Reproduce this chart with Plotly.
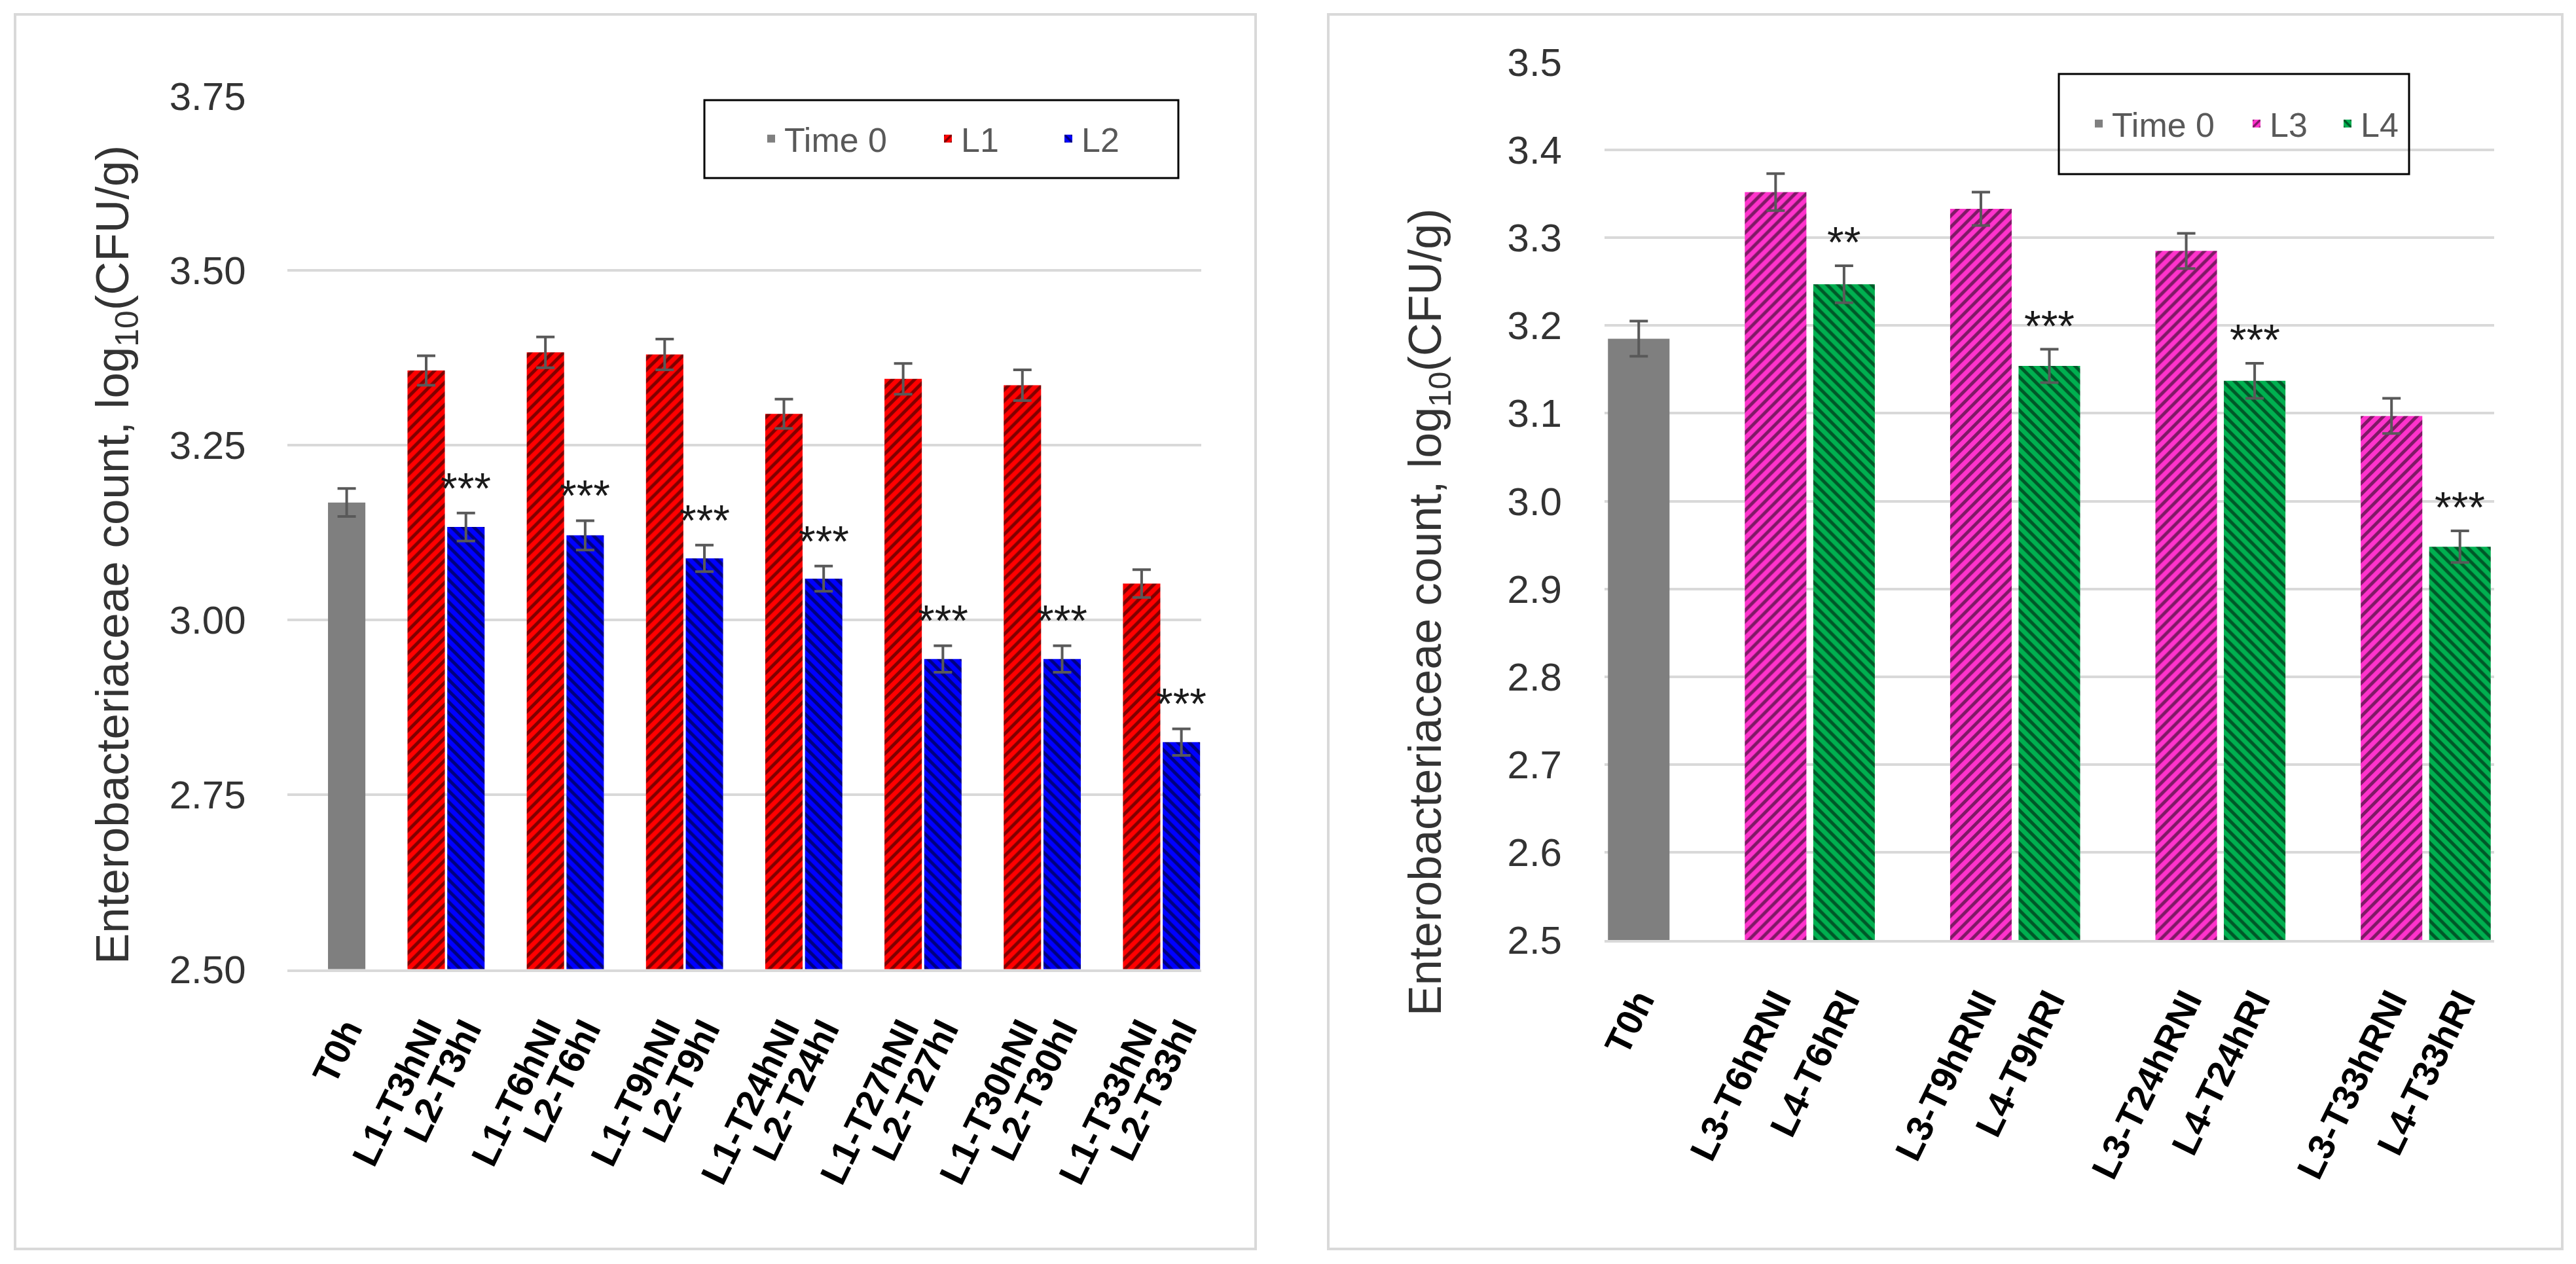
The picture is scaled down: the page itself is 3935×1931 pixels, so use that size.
import plotly.graph_objects as go

W, H = 3935, 1931
FONT = "Liberation Sans, Arial, sans-serif"

# ---------------- data : left panel ----------------
left_t0_label = "T0h"
left_t0_value = 3.168
left_t0_err = 0.020
left_L1_labels = ["L1-T3hNI", "L1-T6hNI", "L1-T9hNI", "L1-T24hNI", "L1-T27hNI", "L1-T30hNI", "L1-T33hNI"]
left_L2_labels = ["L2-T3hI", "L2-T6hI", "L2-T9hI", "L2-T24hI", "L2-T27hI", "L2-T30hI", "L2-T33hI"]
left_L1_values = [3.357, 3.383, 3.380, 3.295, 3.345, 3.336, 3.052]
left_L1_err = [0.021, 0.022, 0.022, 0.021, 0.022, 0.022, 0.020]
left_L2_values = [3.133, 3.121, 3.088, 3.059, 2.944, 2.944, 2.825]
left_L2_err = [0.020, 0.021, 0.019, 0.018, 0.019, 0.019, 0.019]
left_L2_sig = ["***", "***", "***", "***", "***", "***", "***"]

# ---------------- data : right panel ----------------
right_t0_label = "T0h"
right_t0_value = 3.185
right_t0_err = 0.020
right_L3_labels = ["L3-T6hRNI", "L3-T9hRNI", "L3-T24hRNI", "L3-T33hRNI"]
right_L4_labels = ["L4-T6hRI", "L4-T9hRI", "L4-T24hRI", "L4-T33hRI"]
right_L3_values = [3.352, 3.333, 3.285, 3.097]
right_L3_err = [0.021, 0.019, 0.020, 0.020]
right_L4_values = [3.247, 3.154, 3.137, 2.948]
right_L4_err = [0.021, 0.019, 0.020, 0.018]
right_L4_sig = ["**", "***", "***", "***"]

legend_names_left = ["Time 0", "L1", "L2"]
legend_names_right = ["Time 0", "L3", "L4"]
y_title = "Enterobacteriaceae count, log<sub>10</sub>(CFU/g)"

# colours
C_GRAY = "#7f7f7f"
C_RED = "#ff0000"
C_BLUE = "#0000ff"
C_PINK = "#ff33cc"
C_GREEN = "#00b050"
C_ERR = "#595959"
C_GRID = "#d9d9d9"


def px(x):
    return x / W


def py(y):
    return 1 - y / H


# slot positions on the category axis (blank slots separate the groups)
left_t0_pos = [1]
left_L1_pos = [3 + 3 * i for i in range(len(left_L1_values))]
left_L2_pos = [4 + 3 * i for i in range(len(left_L2_values))]
left_nslots = left_L2_pos[-1] + 1

right_t0_pos = [0]
right_L3_pos = [2 + 3 * i for i in range(len(right_L3_values))]
right_L4_pos = [3 + 3 * i for i in range(len(right_L4_values))]
right_nslots = right_L4_pos[-1] + 1


def err(arr):
    return dict(type="data", array=arr, color=C_ERR, thickness=4, width=14, visible=True)


def pat(shape, bg):
    return dict(shape=shape, fgcolor="#000000", bgcolor=bg, size=12, solidity=0.42)


fig = go.Figure()

LW = 0.94
RW = 0.90
# left panel traces
fig.add_trace(go.Bar(x=left_t0_pos, y=[left_t0_value], error_y=err([left_t0_err]),
                     width=LW, marker=dict(color=C_GRAY, line=dict(width=0)), showlegend=True,
                     name=legend_names_left[0], xaxis="x", yaxis="y", legend="legend7"))
fig.add_trace(go.Bar(x=left_L1_pos, y=left_L1_values, error_y=err(left_L1_err),
                     width=LW, marker=dict(color=C_RED, pattern=pat("/", C_RED), line=dict(width=0)),
                     showlegend=True,
                     name=legend_names_left[1], xaxis="x", yaxis="y", legend="legend2"))
fig.add_trace(go.Bar(x=left_L2_pos, y=left_L2_values, error_y=err(left_L2_err),
                     width=LW, marker=dict(color=C_BLUE, pattern=pat("\\", C_BLUE), line=dict(width=0)),
                     showlegend=True,
                     name=legend_names_left[2], xaxis="x", yaxis="y", legend="legend3"))
# right panel traces
fig.add_trace(go.Bar(x=right_t0_pos, y=[right_t0_value], error_y=err([right_t0_err]),
                     width=RW, marker=dict(color=C_GRAY, line=dict(width=0)), showlegend=True,
                     name=legend_names_right[0], xaxis="x2", yaxis="y2", legend="legend4"))
fig.add_trace(go.Bar(x=right_L3_pos, y=right_L3_values, error_y=err(right_L3_err),
                     width=RW, marker=dict(color=C_PINK, pattern=pat("/", C_PINK), line=dict(width=0)),
                     showlegend=True,
                     name=legend_names_right[1], xaxis="x2", yaxis="y2", legend="legend5"))
fig.add_trace(go.Bar(x=right_L4_pos, y=right_L4_values, error_y=err(right_L4_err),
                     width=RW, marker=dict(color=C_GREEN, pattern=pat("\\", C_GREEN), line=dict(width=0)),
                     showlegend=True,
                     name=legend_names_right[2], xaxis="x2", yaxis="y2", legend="legend6"))

# significance marks
annotations = []
for p, v, e, s in zip(left_L2_pos, left_L2_values, left_L2_err, left_L2_sig):
    annotations.append(dict(x=p, y=v + e, xref="x", yref="y", text=s, showarrow=False,
                            yanchor="middle", yshift=38, font=dict(family=FONT, size=66, color="#1a1a1a")))
for p, v, e, s in zip(right_L4_pos, right_L4_values, right_L4_err, right_L4_sig):
    annotations.append(dict(x=p, y=v + e, xref="x2", yref="y2", text=s, showarrow=False,
                            yanchor="middle", yshift=36, font=dict(family=FONT, size=66, color="#1a1a1a")))

# y-axis titles
annotations.append(dict(x=px(177), y=py(848), xref="paper", yref="paper", text=y_title, textangle=-90,
                        showarrow=False, xanchor="center", yanchor="middle",
                        font=dict(family=FONT, size=71, color="#333333")))
annotations.append(dict(x=px(2182), y=py(936), xref="paper", yref="paper", text=y_title, textangle=-90,
                        showarrow=False, xanchor="center", yanchor="middle",
                        font=dict(family=FONT, size=70, color="#333333")))

shapes = [
    # panel frames
    dict(type="rect", xref="paper", yref="paper", x0=px(23), x1=px(1918), y0=py(1908), y1=py(22),
         line=dict(color=C_GRID, width=4), layer="below"),
    dict(type="rect", xref="paper", yref="paper", x0=px(2029), x1=px(3914), y0=py(1908), y1=py(22),
         line=dict(color=C_GRID, width=4), layer="below"),
    # legend boxes
    dict(type="rect", xref="paper", yref="paper", x0=px(1076), x1=px(1800), y0=py(272), y1=py(153),
         line=dict(color="#000000", width=3)),
    dict(type="rect", xref="paper", yref="paper", x0=px(3145), x1=px(3680), y0=py(266), y1=py(113),
         line=dict(color="#000000", width=3)),
]

tickfont_y = dict(family=FONT, size=60, color="#333333")
tickfont_x = dict(family=FONT, size=56, color="#000000", weight="bold")


def leg(xc, yc):
    return dict(x=px(xc - 22), y=py(yc), xanchor="left", yanchor="middle", orientation="h",
                bgcolor="rgba(0,0,0,0)", borderwidth=0, visible=True,
                font=dict(family=FONT, size=52, color="#595959"))


fig.update_layout(
    width=W, height=H, autosize=False,
    margin=dict(l=0, r=0, t=0, b=0, pad=0, autoexpand=False),
    paper_bgcolor="white", plot_bgcolor="white",
    barmode="overlay",
    showlegend=True,
    font=dict(family=FONT),
    xaxis=dict(domain=[px(438.5), px(1835)], range=[-0.5, left_nslots - 0.5],
               tickvals=left_t0_pos + left_L1_pos + left_L2_pos,
               ticktext=[left_t0_label] + left_L1_labels + left_L2_labels,
               tickangle=-64, tickfont=tickfont_x, showgrid=False, zeroline=False,
               showline=True, linecolor=C_GRID, linewidth=4, ticks="", ticklabelstandoff=34,
               anchor="y", automargin=False),
    yaxis=dict(domain=[py(1480.6), py(146.6)], range=[2.5, 3.75], dtick=0.25, tick0=2.5,
               tickformat=".2f", tickfont=tickfont_y, showgrid=True, gridcolor=C_GRID, gridwidth=4,
               zeroline=False, showline=False, ticks="", ticklabelstandoff=62, anchor="x",
               automargin=False),
    xaxis2=dict(domain=[px(2451), px(3810)], range=[-0.5, right_nslots - 0.5],
                tickvals=right_t0_pos + right_L3_pos + right_L4_pos,
                ticktext=[right_t0_label] + right_L3_labels + right_L4_labels,
                tickangle=-64, tickfont=tickfont_x, showgrid=False, zeroline=False,
                showline=True, linecolor=C_GRID, linewidth=4, ticks="", ticklabelstandoff=34,
                anchor="y2", automargin=False),
    yaxis2=dict(domain=[py(1436), py(95)], range=[2.5, 3.5], dtick=0.1, tick0=2.5,
                tickformat=".1f", tickfont=tickfont_y, showgrid=True, gridcolor=C_GRID, gridwidth=4,
                zeroline=False, showline=False, ticks="", ticklabelstandoff=64, anchor="x2",
                automargin=False),
    legend=dict(visible=False),
    legend7=leg(1180, 212),
    legend2=leg(1450, 212),
    legend3=leg(1634, 212),
    legend4=leg(3208, 189),
    legend5=leg(3449, 189),
    legend6=leg(3588, 189),
    annotations=annotations,
    shapes=shapes,
)

fig.write_html("out.html")
